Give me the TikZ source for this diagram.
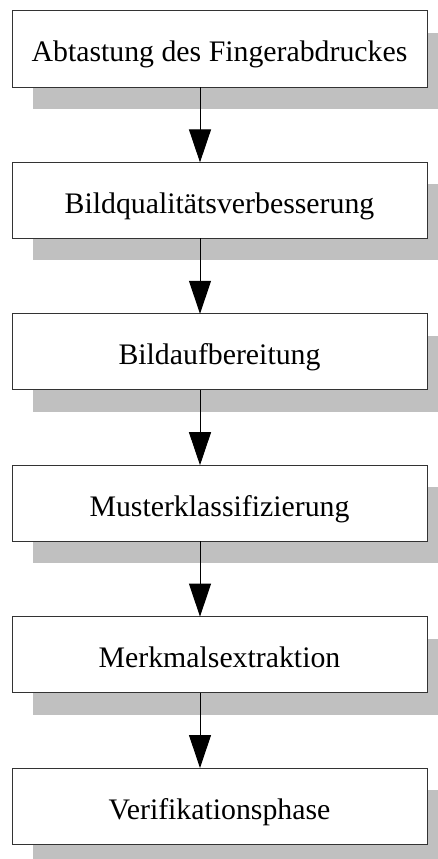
\documentclass[tikz,border=0pt]{standalone}
\usepackage{fontspec}
\setmainfont{Liberation Serif}
\usepackage{tikz}
\usetikzlibrary{arrows.meta,positioning,shadows}

\definecolor{shadowgray}{RGB}{192,192,192}

\begin{document}
\begin{tikzpicture}[x=1pt,y=1pt,thick,node distance = 75.4pt]

\tikzstyle{stage}=[draw=black!80,line width=1pt,fill=white,minimum width=415pt,minimum height=76pt,
  inner sep=0pt,outer sep=0pt,text height=26pt,text depth=0pt,font=\fontsize{29.8}{32}\selectfont,
  drop shadow={shadow xshift=21pt,shadow yshift=-22pt,fill=shadowgray,opacity=1}]
\tikzstyle{step arrow}=[line width=1pt,-{Triangle[length=33pt,width=22pt]}]

\useasboundingbox (0,0) rectangle (438,-859);
\clip (0,0) rectangle (438,-859);

%stages of the fingerprint process
\node [stage] (abtast) at (219.5,-49) {Abtastung des Fingerabdruckes};
\node [stage] (qualitaet) [below=of abtast] {Bildqualitätsverbesserung};
\node [stage] (aufbereit) [below=of qualitaet] {Bildaufbereitung};
\node [stage] (muster) [below=of aufbereit] {Musterklassifizierung};
\node [stage] (merkmal) [below=of muster] {Merkmalsextraktion};
\node [stage] (verifik) [below=of merkmal] {Verifikationsphase};

%arrows between the stages
\foreach \from/\to in {abtast/qualitaet,qualitaet/aufbereit,aufbereit/muster,muster/merkmal,merkmal/verifik}
  \draw [step arrow] ([xshift=-19.5pt]\from.south) -- ([xshift=-19.5pt]\to.north);

\end{tikzpicture}
\end{document}
